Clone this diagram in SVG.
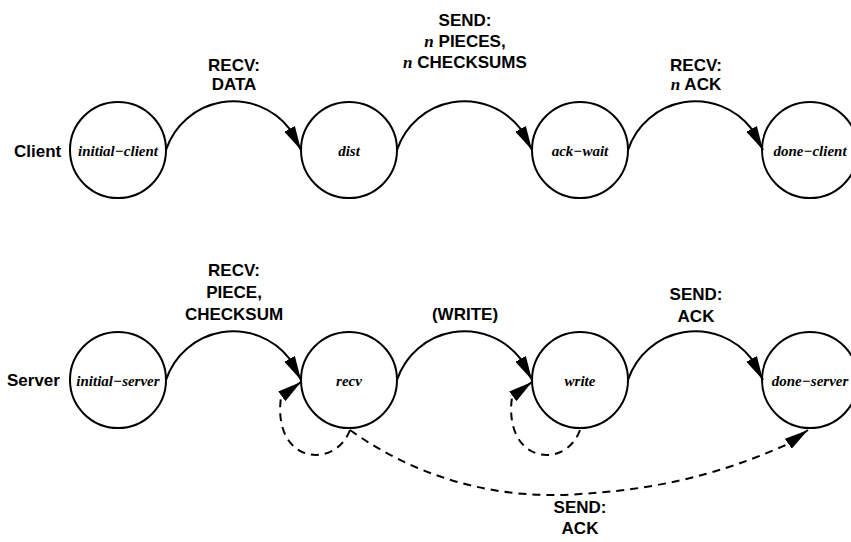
<svg xmlns="http://www.w3.org/2000/svg" width="851" height="542" viewBox="0 0 851 542">
  <style>
    .state { fill: #fff; stroke: #000; stroke-width: 2; }
    .name { font-family: "Liberation Serif", "Times New Roman", serif; font-style: italic; font-weight: bold; font-size: 15px; text-anchor: middle; }
    .role { font-family: "Liberation Sans", Arial, sans-serif; font-weight: bold; font-size: 17px; }
    .lbl { font-family: "Liberation Sans", Arial, sans-serif; font-weight: bold; font-size: 17px; text-anchor: middle; }
    .var { font-family: "Liberation Serif", "Times New Roman", serif; font-style: italic; font-weight: bold; }
    .edge { fill: none; stroke: #000; stroke-width: 2; marker-end: url(#head); }
    .dash { stroke-dasharray: 8 6; }
  </style>
  <defs>
    <marker id="head" markerUnits="userSpaceOnUse" viewBox="0 0 24 12" refX="24" refY="6" markerWidth="24" markerHeight="12" orient="auto">
      <path d="M0,0 L24,6 L0,12 z" fill="#000"/>
    </marker>
  </defs>

  <!-- row labels -->
  <text class="role" x="14" y="157">Client</text>
  <text class="role" x="7" y="386">Server</text>

  <!-- client states -->
  <g id="initial-client"><circle class="state" cx="118" cy="150" r="48"/><text class="name" x="118" y="156">initial−client</text></g>
  <g id="dist"><circle class="state" cx="349" cy="150" r="48"/><text class="name" x="349" y="156">dist</text></g>
  <g id="ack-wait"><circle class="state" cx="580" cy="150" r="48"/><text class="name" x="580" y="156">ack−wait</text></g>
  <g id="done-client"><circle class="state" cx="810" cy="150" r="48"/><text class="name" x="810" y="156">done−client</text></g>

  <!-- server states -->
  <g id="initial-server"><circle class="state" cx="118" cy="380" r="48"/><text class="name" x="118" y="386">initial−server</text></g>
  <g id="recv"><circle class="state" cx="349" cy="380" r="48"/><text class="name" x="349" y="386">recv</text></g>
  <g id="write"><circle class="state" cx="580" cy="380" r="48"/><text class="name" x="580" y="386">write</text></g>
  <g id="done-server"><circle class="state" cx="810" cy="380" r="48"/><text class="name" x="810" y="386">done−server</text></g>

  <!-- transitions -->
  <g id="connectors">
    <path class="edge" d="M166,150 A71,71 0 0 1 289.6,128.9 L301,150"/>
    <path class="edge" d="M397,150 A71,71 0 0 1 520.6,128.9 L532,150"/>
    <path class="edge" d="M628,150 A71,71 0 0 1 751.6,128.9 L763,150"/>

    <path class="edge" d="M166,380 A71,71 0 0 1 289.6,358.9 L301,380"/>
    <path class="edge" d="M397,380 A71,71 0 0 1 520.6,358.9 L532,380"/>
    <path class="edge" d="M628,380 A71,71 0 0 1 751.6,358.9 L763,380"/>

    <path class="edge dash" d="M350,430 C335,470 272,464 281,397 L301,382"/>
    <path class="edge dash" d="M580,430 C566,470 503,464 512,397 L532,382"/>
    <path class="edge dash" d="M350,430 C420,480 500,500 580,494 C680,488 740,465 788,444 L808,430"/>
  </g>

  <!-- transition labels -->
  <text class="lbl" x="234" y="71">RECV:</text>
  <text class="lbl" x="234" y="90">DATA</text>

  <text class="lbl" x="465" y="26">SEND:</text>
  <text class="lbl" x="465" y="47"><tspan class="var">n</tspan> PIECES,</text>
  <text class="lbl" x="465" y="68"><tspan class="var">n</tspan> CHECKSUMS</text>

  <text class="lbl" x="696" y="71">RECV:</text>
  <text class="lbl" x="696" y="90"><tspan class="var">n</tspan> ACK</text>

  <text class="lbl" x="234" y="276">RECV:</text>
  <text class="lbl" x="234" y="298">PIECE,</text>
  <text class="lbl" x="234" y="320">CHECKSUM</text>

  <text class="lbl" x="465" y="320">(WRITE)</text>

  <text class="lbl" x="696" y="300">SEND:</text>
  <text class="lbl" x="696" y="322">ACK</text>

  <text class="lbl" x="580" y="513">SEND:</text>
  <text class="lbl" x="580" y="534">ACK</text>
</svg>
